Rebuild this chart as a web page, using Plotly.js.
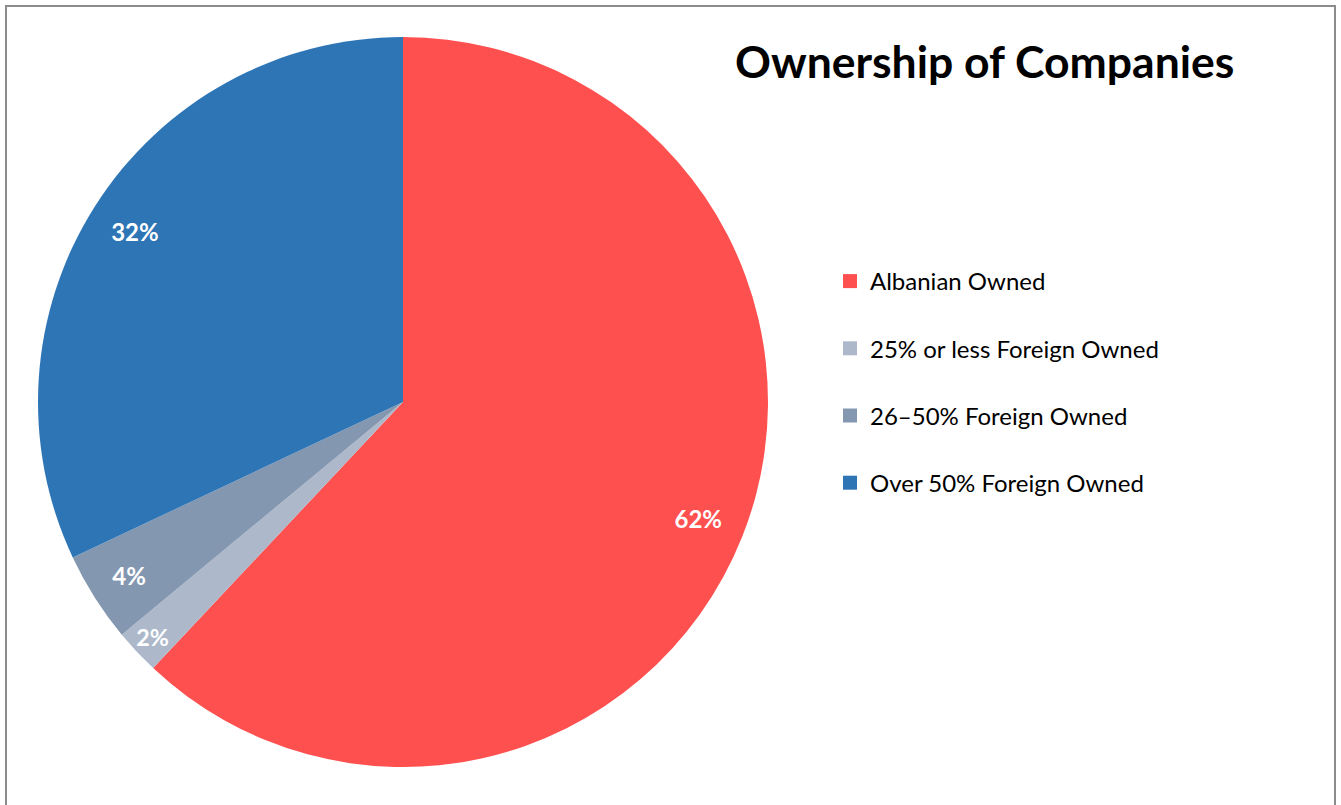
<!DOCTYPE html>
<html>
<head>
<meta charset="utf-8">
<script src="https://cdn.plot.ly/plotly-3.0.1.min.js"></script>
<style>html,body{margin:0;padding:0;background:#fff;}#chart{width:1341px;height:805px;}</style>
</head>
<body>
<div id="chart"></div>
<script>
const categories = ["Albanian Owned", "25% or less Foreign Owned", "26\u201350% Foreign Owned", "Over 50% Foreign Owned"];
const values = [62, 2, 4, 32];
const colors = ["#FF5050", "#ADB9CA", "#8497B0", "#2E75B6"];
const titleText = "Ownership of Companies";

const W = 1341, H = 805;
const FONT = "Lato, 'Open Sans', sans-serif";
const pieDomain = {x: [38 / W, 768 / W], y: [1 - 767 / H, 1 - 37 / H]};

// filled pie, no text
const pie = {
  type: "pie",
  labels: categories,
  values: values,
  sort: false,
  direction: "clockwise",
  rotation: 0,
  marker: {colors: colors, line: {width: 0}},
  textinfo: "none",
  showlegend: false,
  hoverinfo: "label+percent",
  domain: pieDomain
};

// transparent ring over the outer part of the pie that carries the percentage labels
const labelRing = {
  type: "pie",
  labels: categories,
  values: values,
  sort: false,
  direction: "clockwise",
  rotation: 0,
  hole: 0.74,
  marker: {colors: categories.map(() => "rgba(0,0,0,0)"), line: {width: 0}},
  texttemplate: "<b>%{percent:.0%}</b>",
  textposition: "inside",
  insidetextorientation: "horizontal",
  insidetextfont: {family: FONT, size: 24, color: "#ffffff"},
  showlegend: false,
  hoverinfo: "skip",
  domain: pieDomain
};

const legendTraces = categories.map((c, i) => ({
  type: "scatter",
  mode: "markers",
  x: [null], y: [null],
  name: c,
  legendgroup: "g" + i,
  marker: {symbol: "square", size: 14, color: colors[i]},
  showlegend: true,
  hoverinfo: "skip"
}));

const layout = {
  width: W, height: H,
  margin: {l: 0, r: 0, t: 0, b: 0},
  paper_bgcolor: "#ffffff",
  plot_bgcolor: "rgba(0,0,0,0)",
  font: {family: FONT, color: "#000"},
  xaxis: {visible: false},
  yaxis: {visible: false},
  title: {
    text: "<b>" + titleText + "</b>",
    font: {family: FONT, size: 44.5, color: "#000"},
    x: 735 / W, xanchor: "left",
    y: 1 - 62 / H, yanchor: "middle",
    xref: "paper", yref: "paper"
  },
  legend: {
    x: 830 / W, xanchor: "left",
    y: 1 - 259 / H, yanchor: "top",
    font: {family: FONT, size: 24, color: "#000"},
    tracegroupgap: 33,
    bgcolor: "rgba(0,0,0,0)",
    borderwidth: 0
  },
  shapes: [{
    type: "rect", xref: "paper", yref: "paper",
    x0: 6 / W, x1: 1335 / W, y0: -0.05, y1: 1 - 6 / H,
    line: {color: "#8c8c8c", width: 2}, fillcolor: "rgba(0,0,0,0)", layer: "below"
  }]
};

Plotly.newPlot("chart", [pie, labelRing].concat(legendTraces), layout, {displayModeBar: false, staticPlot: true});
</script>
</body>
</html>
